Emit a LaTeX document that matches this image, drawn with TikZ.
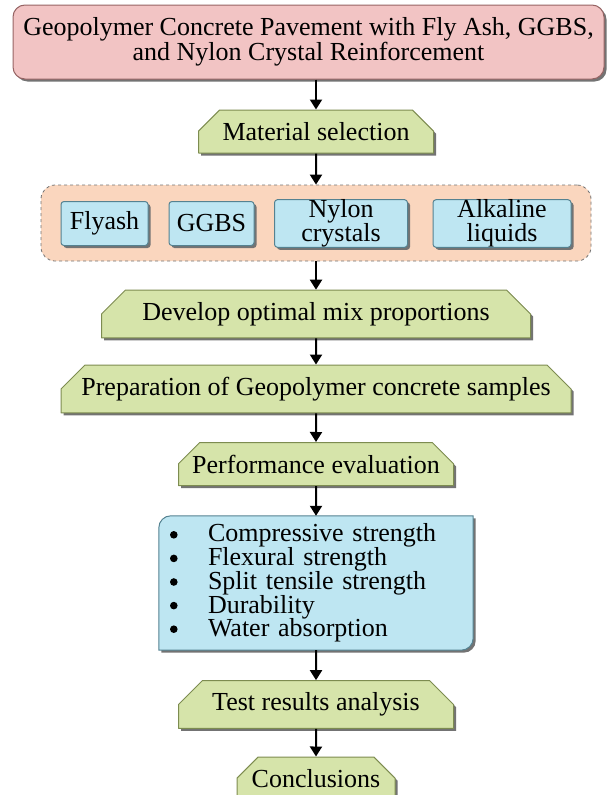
\documentclass[tikz,border=0pt]{standalone}
\usepackage{fontspec}
\setmainfont{Liberation Serif}
\usetikzlibrary{shapes.misc,shadows,arrows.meta,backgrounds}

\definecolor{titlepink}{RGB}{242,196,196}
\definecolor{titleedge}{RGB}{150,100,100}
\definecolor{stepgreen}{RGB}{214,228,170}
\definecolor{greenedge}{RGB}{125,140,80}
\definecolor{itemblue}{RGB}{190,230,242}
\definecolor{blueedge}{RGB}{85,130,145}
\definecolor{grouppeach}{RGB}{250,214,190}

\newcommand{\listindent}{\hspace*{37pt}}

\tikzset{
  boxtext/.style={font=\fontsize{26}{25}\selectfont, align=center, inner sep=0pt},
  bevelshadow/.style={general shadow={shadow xshift=2.5pt, shadow yshift=-2.5pt, fill=black!55}},
  titlebox/.style={boxtext, rectangle, rounded corners=12pt, fill=titlepink,
    draw=titleedge, line width=1pt, bevelshadow},
  stepbox/.style={boxtext, chamfered rectangle,
    chamfered rectangle corners={north west,north east},
    chamfered rectangle xsep=12pt, chamfered rectangle ysep=12pt,
    fill=stepgreen, draw=greenedge, line width=1pt, bevelshadow, minimum height=43pt},
  itembox/.style={boxtext, font=\fontsize{26}{24}\selectfont, rectangle, rounded corners=3pt,
    fill=itemblue, draw=blueedge, line width=1pt, bevelshadow, minimum height=44pt},
  groupbox/.style={rectangle, rounded corners=14pt, dashed, draw=black!55,
    fill=grouppeach, line width=0.8pt},
  listbox/.style={font=\fontsize{26}{23.75}\selectfont, align=left, text width=290pt,
    inner xsep=12pt, inner ysep=0pt, minimum height=134pt},
  flow/.style={line width=2pt, -{Triangle[width=12pt,length=10pt]}}
}

\begin{document}
\begin{tikzpicture}[x=1pt, y=-1pt, line join=round]
  \clip (0,0) rectangle (608,795);

  % Title
  \node[titlebox, minimum width=591pt, minimum height=74pt] (title) at (308.5,42)
    {Geopolymer Concrete Pavement with Fly Ash, GGBS,\\and Nylon Crystal Reinforcement};

  % Materials
  \node[stepbox, minimum width=235pt] (select) at (316,131.5) {Material selection};
  \node[groupbox, minimum width=550pt, minimum height=76pt] (materials) at (316,223) {};
  \node[itembox, minimum width=87pt] (flyash) at (104.5,223.5) {Flyash};
  \node[itembox, minimum width=85pt] (ggbs) at (211.5,223.5) {GGBS};
  \node[itembox, minimum width=133pt] (nylon) at (341,223.5) {Nylon\\crystals};
  \node[itembox, minimum width=138pt] (alkaline) at (502,223.5) {Alkaline\\liquids};

  % Mix and samples
  \node[stepbox, minimum width=429pt] (mix) at (316,314) {Develop optimal mix proportions};
  \node[stepbox, minimum width=510pt] (samples) at (316,389)
    {Preparation of Geopolymer concrete samples};
  \node[stepbox, minimum width=275pt] (perf) at (316,464) {Performance evaluation};

  % Tests
  \node[listbox] (tests) at (316,583)
    {\listindent Compressive strength\\
     \listindent Flexural strength\\
     \listindent Split tensile strength\\
     \listindent Durability\\
     \listindent Water absorption};
  \begin{pgfonlayer}{background}
    \path[fill=itemblue, draw=blueedge, line width=1pt, bevelshadow]
      (tests.south west) -- ([yshift=-12pt]tests.north west)
      arc[start angle=180, end angle=90, radius=12pt] -- (tests.north east)
      -- ([yshift=12pt]tests.south east)
      arc[start angle=0, end angle=-90, radius=12pt] -- cycle;
  \end{pgfonlayer}
  \foreach \i in {0,...,4}
    \fill ([xshift=15pt, yshift={-19pt-23.6pt*\i}]tests.north west) circle (3.8pt);

  \node[stepbox, minimum width=275pt] (analysis) at (316,704.5) {Test results analysis};
  \node[stepbox, minimum width=158pt] (concl) at (316,778.5) {Conclusions};

  % Arrows
  \draw[flow] (select.north |- title.south) -- (select.north);
  \draw[flow] (select) -- (materials);
  \draw[flow] (materials) -- (mix);
  \draw[flow] (mix) -- (samples);
  \draw[flow] (samples) -- (perf);
  \draw[flow] (perf) -- (tests);
  \draw[flow] (tests) -- (analysis);
  \draw[flow] (analysis) -- (concl);
\end{tikzpicture}
\end{document}
